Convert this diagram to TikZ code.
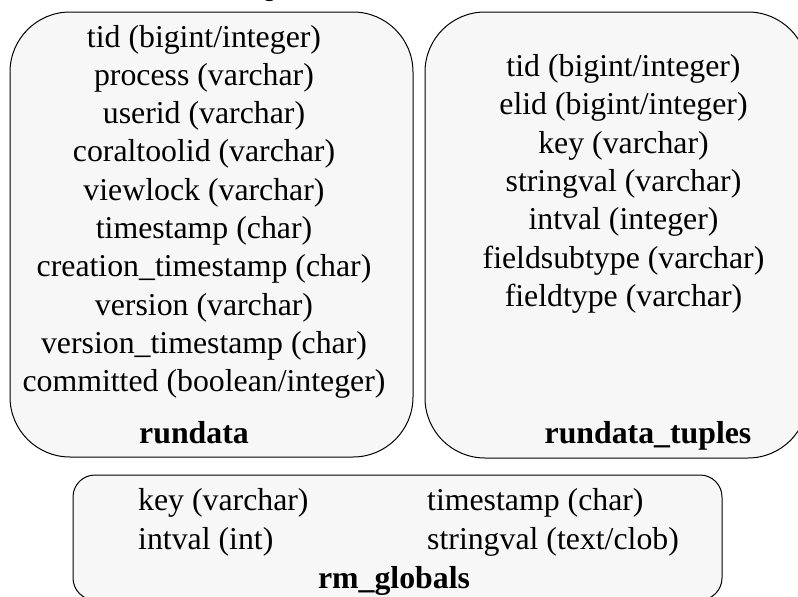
\documentclass[tikz,border=0pt]{standalone}
\usepackage{fontspec}
\setmainfont{Liberation Serif}
\definecolor{tablefill}{HTML}{F7F7F7}
\begin{document}
\begin{tikzpicture}[x=1pt, y=-1pt,
  table/.style={draw=black, line width=1pt, fill=tablefill},
  field/.style={anchor=base, inner sep=0pt, font=\fontsize{31.8}{38}\selectfont},
  fieldleft/.style={field, anchor=base west},
  tabletitle/.style={field, font=\fontsize{31.8}{38}\selectfont\bfseries}]
\useasboundingbox (0,0) rectangle (798,597);
\begin{scope}
\clip (0,0) rectangle (798,597);
% heading above the tables (only its lower edge shows)
\node[tabletitle] (heading) at (262,-3) {Q};
% table outlines
\path[table, rounded corners=60] (10,12) rectangle (413,457);
\path[table, rounded corners=60] (425,12) rectangle (808,458);
\path[table, rounded corners=22] (73,475) rectangle (722,600);
% rundata
\foreach \t [count=\i] in {tid (bigint/integer), process (varchar), userid (varchar),
    coraltoolid (varchar), viewlock (varchar), timestamp (char),
    creation\_timestamp (char), version (varchar), version\_timestamp (char),
    committed (boolean/integer)}
  \node[field] (rd-\i) at (204,{47+38.33*(\i-1)}) {\t};
\node[tabletitle] (rundata) at (194,443) {rundata};
% rundata_tuples
\foreach \t [count=\i] in {tid (bigint/integer), elid (bigint/integer), key (varchar),
    stringval (varchar), intval (integer), fieldsubtype (varchar), fieldtype (varchar)}
  \node[field] (rt-\i) at (623.5,{76.5+38.3*(\i-1)}) {\t};
\node[tabletitle] (tuples) at (648,443) {rundata\_tuples};
% rm_globals
\node[fieldleft] (rg-key) at (138,510) {key (varchar)};
\node[fieldleft] (rg-int) at (138,549) {intval (int)};
\node[fieldleft] (rg-ts) at (427,510) {timestamp (char)};
\node[fieldleft] (rg-str) at (427,549) {stringval (text/clob)};
\node[tabletitle] (globals) at (394,588) {rm\_globals};
\end{scope}
\end{tikzpicture}
\end{document}
